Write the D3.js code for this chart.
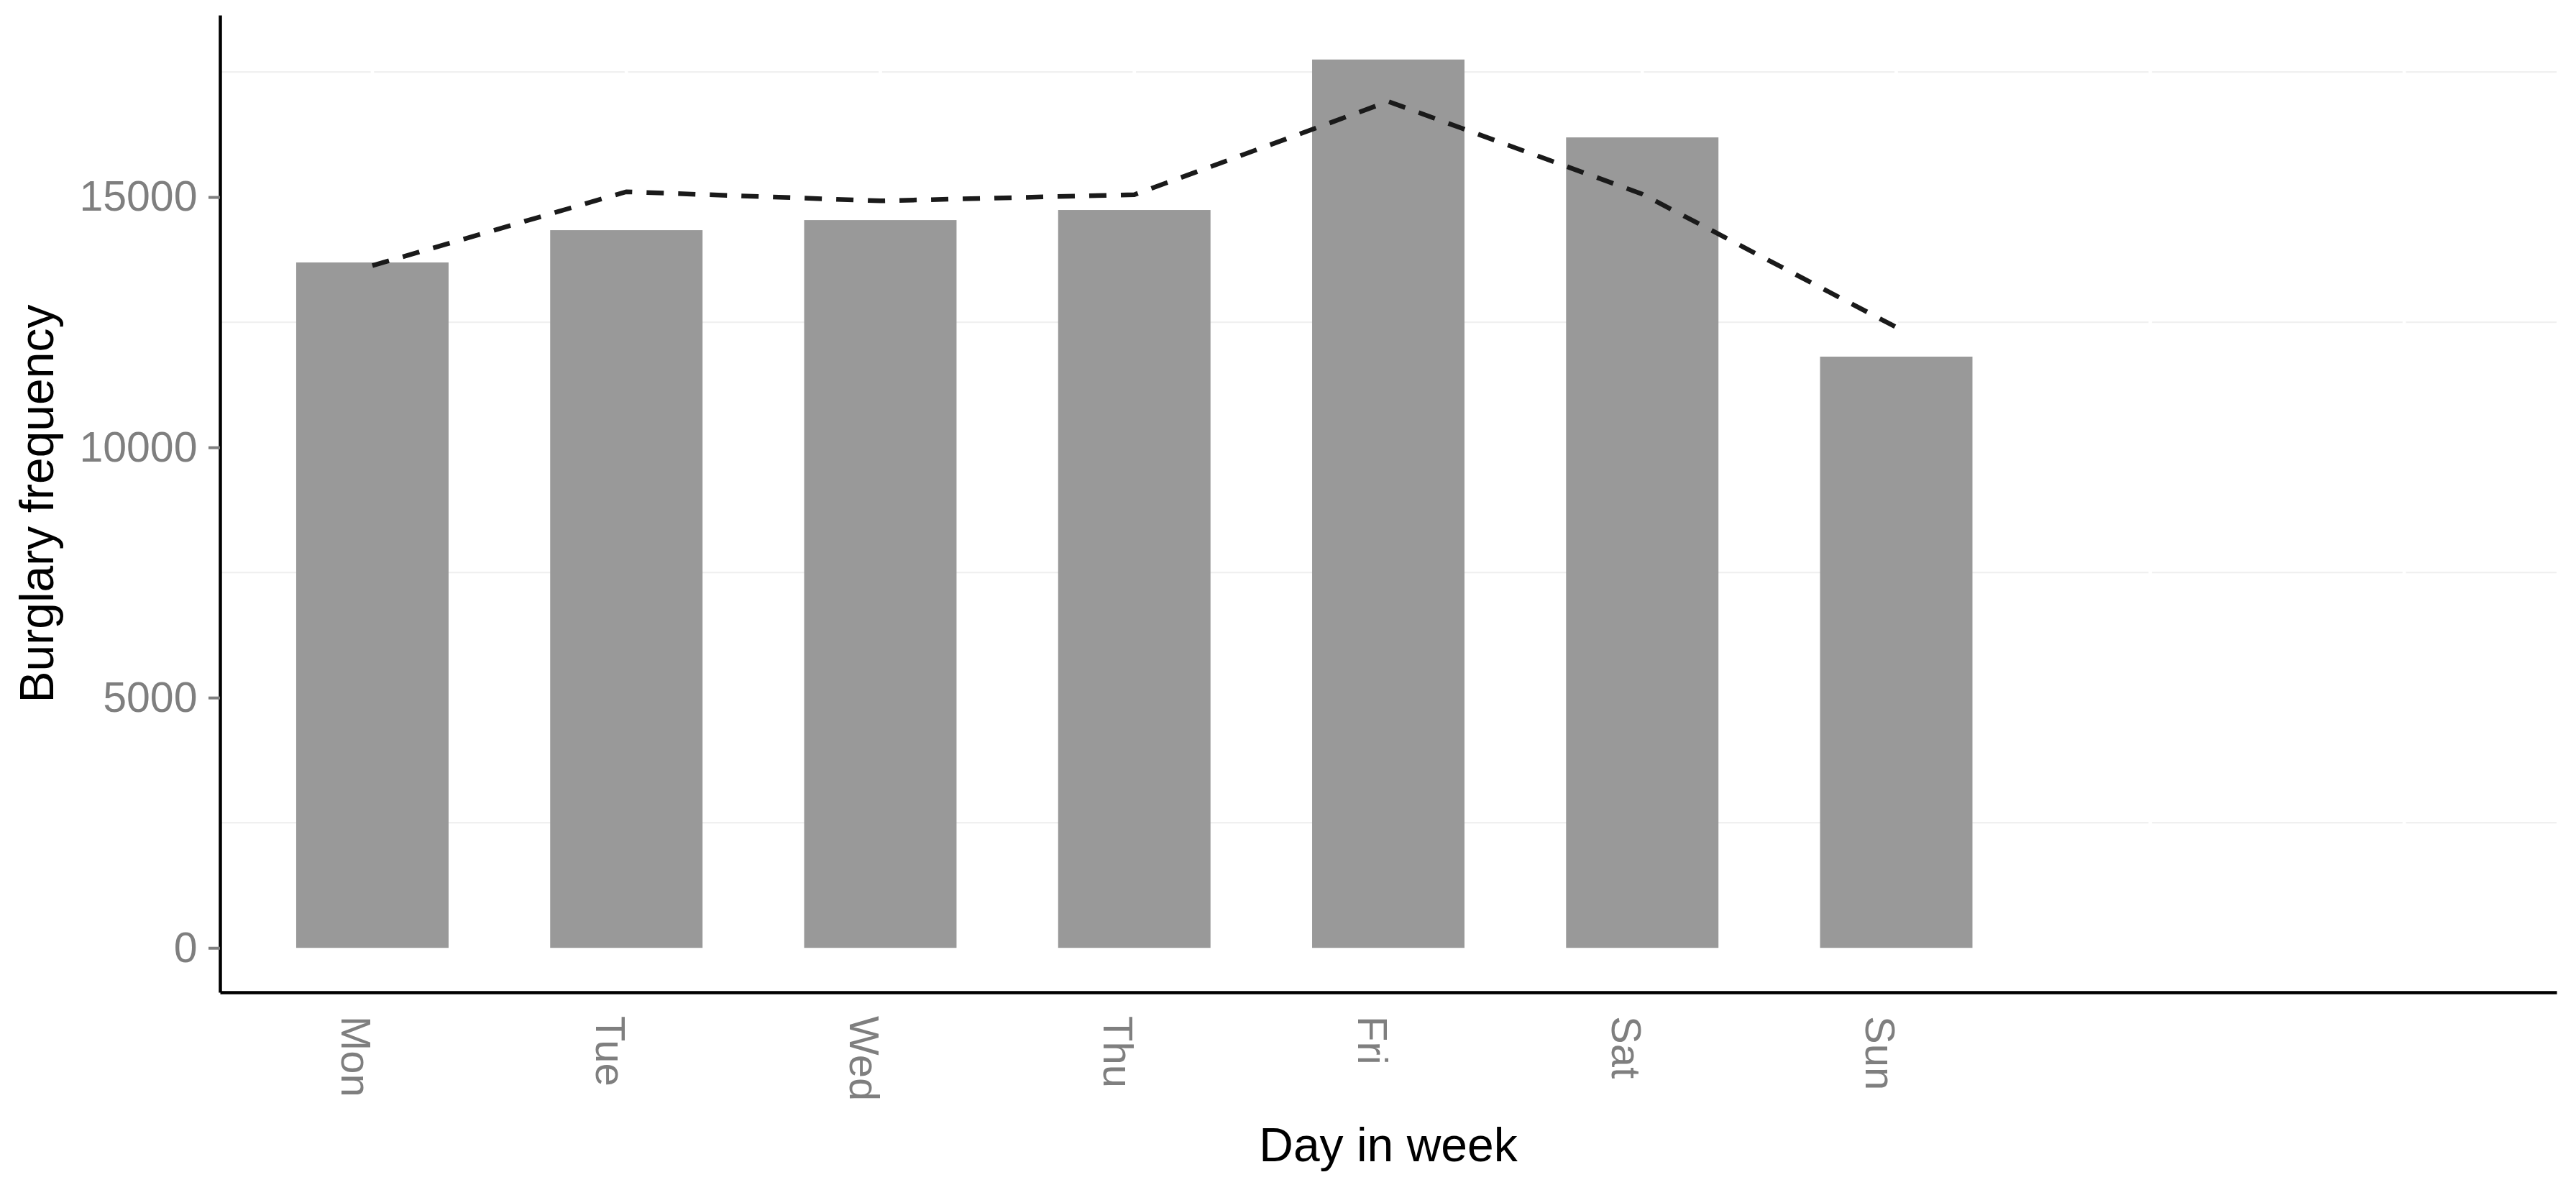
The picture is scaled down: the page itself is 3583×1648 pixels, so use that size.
<!DOCTYPE html>
<html>
<head>
<meta charset="utf-8">
<script src="https://cdn.jsdelivr.net/npm/d3@7"></script>
<style>
  body { margin: 0; background: #fff; }
  text { font-family: "Liberation Sans", Arial, Helvetica, sans-serif; }
</style>
</head>
<body>
<script>
// day levels (last two slots are empty levels on the x scale)
var dayLabels = ["Mon", "Tue", "Wed", "Thu", "Fri", "Sat", "Sun", "", ""];
var barValues = [13694, 14339, 14540, 14742, 17748, 16192, 11812];
var lineValues = [13630, 15106, 14924, 15048, 16910, 15060, 12400];
var yTicks = [0, 5000, 10000, 15000];
var yMinor = [2500, 7500, 12500, 17500];

var width = 3583,
    height = 1648,
    panel = {left: 306, right: 3556, top: 21, bottom: 1380},
    tickGrey = "#7f7f7f";

var svg = d3.select("body").append("svg")
    .attr("width", width).attr("height", height);

var x = d3.scalePoint()
    .domain(d3.range(dayLabels.length))
    .range([panel.left, panel.right])
    .padding(0.6);

var barW = x.step() * 0.6;

var yMax = d3.max(barValues);
var y = d3.scaleLinear()
    .domain([-0.05 * yMax, 1.05 * yMax])
    .range([panel.bottom, panel.top]);

// minor grid lines (faint)
svg.append("g").selectAll("line")
  .data(yMinor)
  .enter().append("line")
    .attr("x1", panel.left).attr("x2", panel.right)
    .attr("y1", function(d) { return y(d); })
    .attr("y2", function(d) { return y(d); })
    .attr("stroke", "#f0f0f0")
    .attr("stroke-width", 2.2);

// major vertical grid lines are white, they cut the minor ones
svg.append("g").selectAll("line")
  .data(d3.range(dayLabels.length))
  .enter().append("line")
    .attr("x1", function(d) { return x(d); })
    .attr("x2", function(d) { return x(d); })
    .attr("y1", panel.top).attr("y2", panel.bottom)
    .attr("stroke", "#ffffff")
    .attr("stroke-width", 4.7);

// bars
svg.append("g").selectAll("rect")
  .data(barValues)
  .enter().append("rect")
    .attr("x", function(d, i) { return x(i) - barW / 2; })
    .attr("width", barW)
    .attr("y", function(d) { return y(d); })
    .attr("height", function(d) { return y(0) - y(d); })
    .attr("fill", "#999999");

// dashed line
var line = d3.line()
    .x(function(d, i) { return x(i); })
    .y(function(d) { return y(d); });

svg.append("path")
    .datum(lineValues)
    .attr("d", line)
    .attr("fill", "none")
    .attr("stroke", "#1a1a1a")
    .attr("stroke-width", 6.5)
    .attr("stroke-dasharray", "24,20");

// y axis
var yAxis = d3.axisLeft(y).tickValues(yTicks).tickFormat(d3.format("d"))
    .tickSize(16).tickSizeOuter(0).tickPadding(15.5);
var gy = svg.append("g")
    .attr("transform", "translate(" + panel.left + ",0)")
    .call(yAxis);
gy.select(".domain").attr("stroke", "#000").attr("stroke-width", 4.5);
gy.selectAll(".tick line").attr("stroke", tickGrey).attr("stroke-width", 4);
gy.selectAll(".tick text")
    .attr("fill", tickGrey)
    .attr("font-size", 59)
    .attr("font-family", "Liberation Sans, Arial, sans-serif");

// x axis
var xAxis = d3.axisBottom(x).tickSize(0).tickSizeOuter(0)
    .tickFormat(function(d) { return dayLabels[d]; });
var gx = svg.append("g")
    .attr("transform", "translate(0," + panel.bottom + ")")
    .call(xAxis);
gx.select(".domain").attr("stroke", "#000").attr("stroke-width", 4.5);
gx.selectAll(".tick text")
    .attr("fill", tickGrey)
    .attr("font-size", 58)
    .attr("font-family", "Liberation Sans, Arial, sans-serif")
    .attr("text-anchor", "start")
    .attr("x", 0)
    .attr("y", 43)
    .attr("dy", null)
    .attr("transform", "translate(0,33) rotate(90)");

// titles
svg.append("text")
    .attr("x", (panel.left + panel.right) / 2)
    .attr("y", 1615)
    .attr("text-anchor", "middle")
    .attr("font-size", 66)
    .attr("fill", "#000")
    .text("Day in week");

svg.append("text")
    .attr("transform", "translate(74," + ((panel.top + panel.bottom) / 2) + ") rotate(-90)")
    .attr("text-anchor", "middle")
    .attr("font-size", 66)
    .attr("fill", "#000")
    .text("Burglary frequency");
</script>
</body>
</html>
